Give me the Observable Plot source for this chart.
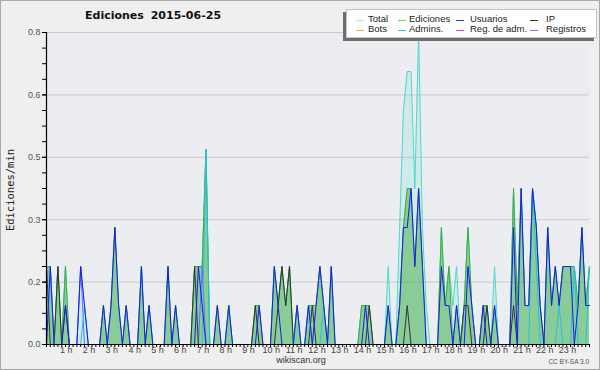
<!DOCTYPE html>
<html><head><meta charset="utf-8">
<script src="https://cdn.jsdelivr.net/npm/d3@7"></script>
<script src="https://cdn.jsdelivr.net/npm/@observablehq/plot@0.6"></script>
<style>
html,body{margin:0;padding:0;background:#efefef;}
#wrap{position:relative;width:600px;height:370px;overflow:hidden;background:#efefef;font-family:"Liberation Sans",Arial,sans-serif;}
#chart{position:absolute;left:0;top:0;}
#frame{position:absolute;left:0;top:0;width:598px;height:368px;border:1px solid #a9a9a9;pointer-events:none;}
.abs{position:absolute;white-space:nowrap;}
#title{left:85px;top:9px;font:bold 11px "DejaVu Sans",sans-serif;color:#111;word-spacing:3px;}
#ylabel{left:10px;top:190px;font:10.5px "DejaVu Sans Mono",monospace;color:#222;transform:translate(-50%,-50%) rotate(-90deg);}
#legend{left:346px;top:9px;width:249px;height:27px;background:#fff;border:1px solid #c4c4c4;box-shadow:-3px 3px 0 #6e6e6e;}
.lg{position:absolute;font-size:9.5px;color:#222;line-height:10px;}
.sw{position:absolute;height:1px;}
#site{left:301px;top:355px;transform:translateX(-50%);font-size:9px;color:#333;}
#lic{right:11px;top:358px;font-size:6.5px;color:#555;}
</style></head><body>
<div id="wrap">
  <div id="chart"></div>
  <div class="abs" id="title"></div>
  <div class="abs" id="ylabel"></div>
  <div class="abs" id="legend"></div>
  <div class="abs" id="site"></div>
  <div class="abs" id="lic"></div>
  <div id="frame"></div>
</div>
<script>
// ---- texts ----
const titleText = "Ediciones 2015-06-25";
const yLabel = "Ediciones/min";
const siteText = "wikiscan.org";
const licText = "CC BY-SA 3.0";

// ---- legend ----
const legendLabels = ["Total", "Ediciones", "Usuarios", "IP", "Bots", "Admins.", "Reg. de adm.", "Registros"];
const legendColors = ["#a6ebe4", "#74cc74", "#3535ee", "#333333", "#ffa33a", "#33ccdd", "#cc44ee", "#7b7bff"];

// ---- axis ticks ----
const yTickValues = [0, 0.16, 0.32, 0.48, 0.64, 0.8];
const yMinorStep = 0.04;
const hourLabels = ["1 h","2 h","3 h","4 h","5 h","6 h","7 h","8 h","9 h","10 h","11 h","12 h",
  "13 h","14 h","15 h","16 h","17 h","18 h","19 h","20 h","21 h","22 h","23 h"];
const binMinutes = 10;

// ---- series: edits per minute, 10-minute bins, one row per hour ----
const total = [
  0.2,0.2,0,0.2,0,0.2,   0,0,0,0.2,0.1,0,      0,0,0,0.1,0,0.1,      0.3,0.1,0,0.1,0,0,
  0,0.2,0,0.1,0,0,       0,0,0.2,0,0.1,0,      0,0,0,0.2,0.2,0.2,    0.5,0,0,0.1,0,0,
  0.1,0,0,0,0,0,         0,0.1,0.1,0,0,0,      0.2,0.1,0.2,0.1,0.2,0, 0.1,0,0,0.1,0.1,0.1,
  0.2,0.1,0,0.2,0,0,     0,0,0,0,0,0.1,        0.1,0.1,0,0,0,0,      0.2,0,0,0.3,0.6,0.7,
  0.7,0.4,0.8,0.3,0.1,0, 0,0,0.3,0.1,0.2,0.1,  0.2,0,0.1,0.3,0.1,0,  0,0.1,0.1,0,0.2,0,
  0,0,0,0.4,0.1,0.4,     0.1,0.1,0.4,0.3,0.1,0, 0.3,0.1,0.2,0.1,0.2,0.2, 0.2,0.2,0.1,0.3,0.1,0.2
];
const ediciones = [
  0.2,0.2,0,0.2,0,0.2,   0,0,0,0,0,0,          0,0,0,0.1,0,0.1,      0.3,0.1,0,0.1,0,0,
  0,0.2,0,0.1,0,0,       0,0,0.2,0,0.1,0,      0,0,0,0.2,0.2,0.2,    0.5,0,0,0.1,0,0,
  0.1,0,0,0,0,0,         0,0.1,0.1,0,0,0,      0.2,0.1,0.2,0.1,0.2,0, 0.1,0,0,0.1,0.1,0.1,
  0.2,0.1,0,0.2,0,0,     0,0,0,0,0,0.1,        0.1,0.1,0,0,0,0,      0.1,0,0,0.1,0.3,0.4,
  0.4,0.2,0.4,0.2,0,0,   0,0,0.3,0.1,0.2,0,    0.1,0,0.1,0.3,0.1,0,  0,0.1,0.1,0,0.1,0,
  0,0,0,0.4,0.1,0.4,     0.1,0.1,0.4,0.3,0.1,0, 0.3,0.1,0.2,0.1,0.2,0.2, 0.2,0.2,0.1,0.3,0.1,0.2
];
const usuarios = [
  0,0.2,0,0,0,0.1,       0,0,0,0.2,0.1,0,      0,0,0,0.1,0,0.1,      0.3,0.1,0,0.1,0,0,
  0,0.2,0,0.1,0,0,       0,0,0.2,0,0.1,0,      0,0,0,0,0.2,0.1,      0,0,0,0.1,0,0,
  0.1,0,0,0,0,0,         0,0,0.1,0,0,0,        0.2,0.1,0,0,0,0,      0.1,0,0,0.1,0,0.1,
  0.2,0.1,0,0.2,0,0,     0,0,0,0,0,0,          0.1,0,0,0,0,0,        0.1,0,0,0.1,0.3,0.3,
  0.4,0.2,0.4,0.2,0,0,   0,0,0.2,0.1,0.1,0,    0.1,0,0,0.2,0.1,0,    0,0.1,0,0,0.1,0,
  0,0,0,0.3,0,0.4,       0.1,0.1,0.4,0.3,0.1,0, 0.3,0.1,0.2,0.1,0.2,0.2, 0.2,0,0.1,0.3,0.1,0.1
];
const ip = [
  0.2,0,0,0.2,0,0.1,     0,0,0,0,0,0,          0,0,0,0,0,0,          0,0,0,0,0,0,
  0,0,0,0,0,0,           0,0,0,0,0,0,          0,0,0,0.2,0,0,        0,0,0,0,0,0,
  0,0,0,0,0,0,           0,0.1,0,0,0,0,        0,0.1,0.2,0.1,0.2,0,  0,0,0,0,0.1,0,
  0,0,0,0,0,0,           0,0,0,0,0,0,          0,0.1,0,0,0,0,        0,0,0,0,0,0.1,
  0,0,0,0,0,0,           0,0,0,0,0,0,          0,0,0.1,0.1,0,0,      0,0,0.1,0,0,0,
  0,0,0,0.1,0,0,         0,0,0,0,0,0,          0,0,0,0,0,0,          0,0,0,0,0,0
];
const admins = [
  0,0.2,0,0,0,0,         0,0,0,0,0.1,0,        0,0,0,0,0,0,          0,0,0,0,0,0,
  0,0,0,0,0,0,           0,0,0,0,0,0,          0,0,0,0,0,0,          0.5,0,0,0,0,0,
  0,0,0,0,0,0,           0,0,0,0,0,0,          0,0,0,0,0,0,          0.1,0,0,0.1,0,0,
  0,0.1,0,0,0,0,         0,0,0,0,0,0,          0,0,0,0,0,0,          0,0,0,0,0,0,
  0,0,0,0,0,0,           0,0,0,0,0,0,          0,0,0,0,0,0,          0,0,0,0,0,0,
  0,0,0,0,0,0,           0,0,0.4,0.2,0,0,      0,0,0,0.1,0,0,        0,0.2,0,0,0,0.2
];
const registros = [
  0,0,0,0,0,0,           0,0,0,0.2,0,0,        0,0,0,0,0,0,          0,0,0,0,0,0,
  0,0,0,0,0,0,           0,0,0,0,0,0,          0,0,0,0,0,0.2,        0,0,0,0,0,0,
  0,0,0,0,0,0,           0,0,0,0,0,0,          0,0,0,0,0,0,          0,0,0,0,0,0,
  0,0,0,0,0,0,           0,0,0,0,0,0,          0,0,0,0,0,0,          0,0,0,0,0,0,
  0,0,0,0,0,0,           0,0,0,0,0,0,          0,0,0,0,0,0,          0,0,0,0,0,0,
  0,0,0,0,0,0,           0,0,0,0,0,0,          0,0,0,0,0,0,          0,0,0,0,0,0
];

// ---- build table ----
const rows = total.map((v, i) => ({
  t: i * binMinutes, total: v, ediciones: ediciones[i], usuarios: usuarios[i],
  ip: ip[i], admins: admins[i], registros: registros[i]
}));
const lastT = (total.length - 1) * binMinutes;
const minorX = d3.range(0, lastT + 1, binMinutes);
const hourTicks = hourLabels.map((_, k) => (k + 1) * 60);
const yMinor = d3.range(0, 0.8 + 1e-9, yMinorStep);

const chart = Plot.plot({
  width: 600, height: 370,
  marginLeft: 46, marginRight: 11, marginTop: 32, marginBottom: 26,
  style: {background: "transparent", fontFamily: "Liberation Sans, Arial, sans-serif", fontSize: "9px", color: "#555"},
  x: {domain: [0, lastT], label: null},
  y: {domain: [0, 0.8], label: null},
  marks: [
    Plot.frame({fill: "#ecedf0", stroke: null}),
    Plot.ruleY(yTickValues.slice(1), {stroke: "#c9c9c9", strokeWidth: 1}),
    Plot.areaY(rows, {x: "t", y: "total", fill: "#3fd6c8", fillOpacity: 0.16}),
    Plot.areaY(rows, {x: "t", y: "ediciones", fill: "#33a833", fillOpacity: 0.45}),
    Plot.lineY(rows, {x: "t", y: "total", stroke: "#4fd8cc", strokeWidth: 1}),
    Plot.lineY(rows, {x: "t", y: "ediciones", stroke: "#3aae3a", strokeWidth: 1}),
    Plot.lineY(rows, {x: "t", y: "registros", stroke: "#6a6aff", strokeWidth: 1}),
    Plot.lineY(rows, {x: "t", y: "ip", stroke: "#333333", strokeWidth: 1}),
    Plot.lineY(rows, {x: "t", y: "admins", stroke: "#25c2dc", strokeWidth: 1}),
    Plot.lineY(rows, {x: "t", y: "usuarios", stroke: "#1a1aee", strokeWidth: 1}),
    Plot.ruleY([0], {stroke: "#000", strokeWidth: 1.2}),
    Plot.ruleX([0], {stroke: "#000", strokeWidth: 1.2}),
    Plot.axisY({ticks: yMinor, tickSize: 4, tickFormat: () => "", stroke: "#000"}),
    Plot.axisY({ticks: yTickValues, tickSize: 4, tickPadding: 2, tickFormat: d3.format(".1f"), fill: "#555", stroke: "#000"}),
    Plot.axisX({ticks: minorX, tickSize: 3, tickFormat: () => "", stroke: "#000"}),
    Plot.axisX({ticks: hourTicks, tickSize: 0, tickPadding: 2, dx: -3,
      tickFormat: (d) => hourLabels[d / 60 - 1], fill: "#444"})
  ]
});
document.getElementById("chart").appendChild(chart);

// ---- texts & legend ----
document.getElementById("title").textContent = titleText;
document.getElementById("ylabel").textContent = yLabel;
document.getElementById("site").textContent = siteText;
document.getElementById("lic").textContent = licText;

const legend = document.getElementById("legend");
const swX = [9, 51, 109, 183];   // swatch left, relative to legend box
const txX = [21, 62, 123, 199];  // text left
const rowY = [9.5, 19.5];
legendLabels.forEach((lab, k) => {
  const c = k % 4, r = Math.floor(k / 4);
  const sw = document.createElement("div");
  sw.className = "sw";
  sw.style.left = swX[c] + "px"; sw.style.top = rowY[r] + "px";
  sw.style.width = "8px"; sw.style.background = legendColors[k];
  legend.appendChild(sw);
  const tx = document.createElement("div");
  tx.className = "lg";
  tx.style.left = txX[c] + "px"; tx.style.top = (rowY[r] - 5.5) + "px";
  tx.textContent = lab;
  legend.appendChild(tx);
});
</script>
</body></html>
